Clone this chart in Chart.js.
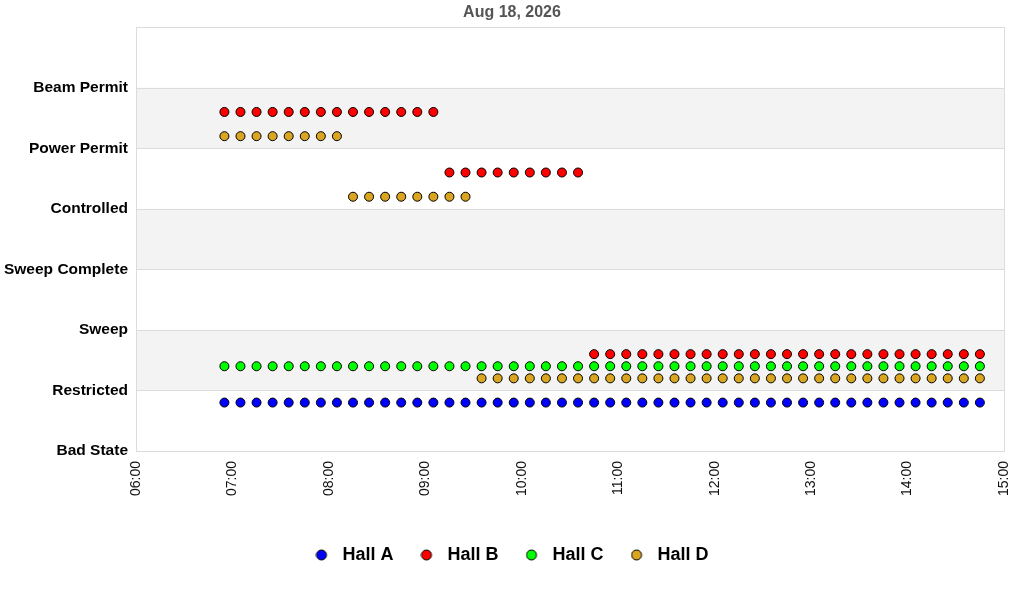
<!DOCTYPE html>
<html>
<head>
<meta charset="utf-8">
<script src="https://cdn.jsdelivr.net/npm/chart.js@4/dist/chart.umd.min.js"></script>
<style>
  body { margin: 0; background: #fff; }
</style>
</head>
<body>
<canvas id="c" width="1024" height="600"></canvas>
<script>
var STATES = ["Bad State", "Restricted", "Sweep", "Sweep Complete", "Controlled", "Power Permit", "Beam Permit"]

var TIMES = [
  "06:55", "07:05", "07:15", "07:25", "07:35", "07:45", "07:55", "08:05",
  "08:15", "08:25", "08:35", "08:45", "08:55", "09:05", "09:15", "09:25",
  "09:35", "09:45", "09:55", "10:05", "10:15", "10:25", "10:35", "10:45",
  "10:55", "11:05", "11:15", "11:25", "11:35", "11:45", "11:55", "12:05",
  "12:15", "12:25", "12:35", "12:45", "12:55", "13:05", "13:15", "13:25",
  "13:35", "13:45", "13:55", "14:05", "14:15", "14:25", "14:35", "14:45"
]

// y values: state index plus a small lane offset per hall
var HALL_A = [
  0.8, 0.8, 0.8, 0.8, 0.8, 0.8, 0.8, 0.8, 0.8, 0.8, 0.8, 0.8, 0.8, 0.8, 0.8, 0.8,
  0.8, 0.8, 0.8, 0.8, 0.8, 0.8, 0.8, 0.8, 0.8, 0.8, 0.8, 0.8, 0.8, 0.8, 0.8, 0.8,
  0.8, 0.8, 0.8, 0.8, 0.8, 0.8, 0.8, 0.8, 0.8, 0.8, 0.8, 0.8, 0.8, 0.8, 0.8, 0.8
]
var HALL_B = [
  5.6, 5.6, 5.6, 5.6, 5.6, 5.6, 5.6, 5.6, 5.6, 5.6, 5.6, 5.6, 5.6, 5.6, 4.6, 4.6,
  4.6, 4.6, 4.6, 4.6, 4.6, 4.6, 4.6, 1.6, 1.6, 1.6, 1.6, 1.6, 1.6, 1.6, 1.6, 1.6,
  1.6, 1.6, 1.6, 1.6, 1.6, 1.6, 1.6, 1.6, 1.6, 1.6, 1.6, 1.6, 1.6, 1.6, 1.6, 1.6
]
var HALL_C = [
  1.4, 1.4, 1.4, 1.4, 1.4, 1.4, 1.4, 1.4, 1.4, 1.4, 1.4, 1.4, 1.4, 1.4, 1.4, 1.4,
  1.4, 1.4, 1.4, 1.4, 1.4, 1.4, 1.4, 1.4, 1.4, 1.4, 1.4, 1.4, 1.4, 1.4, 1.4, 1.4,
  1.4, 1.4, 1.4, 1.4, 1.4, 1.4, 1.4, 1.4, 1.4, 1.4, 1.4, 1.4, 1.4, 1.4, 1.4, 1.4
]
var HALL_D = [
  5.2, 5.2, 5.2, 5.2, 5.2, 5.2, 5.2, 5.2, 4.2, 4.2, 4.2, 4.2, 4.2, 4.2, 4.2, 4.2,
  1.2, 1.2, 1.2, 1.2, 1.2, 1.2, 1.2, 1.2, 1.2, 1.2, 1.2, 1.2, 1.2, 1.2, 1.2, 1.2,
  1.2, 1.2, 1.2, 1.2, 1.2, 1.2, 1.2, 1.2, 1.2, 1.2, 1.2, 1.2, 1.2, 1.2, 1.2, 1.2
]

var BLUE = "#0000ff"
var RED = "#ff0000"
var GREEN = "#00ff00"
var GOLD = "#daa520"

function toMinutes(t) {
  var p = t.split(":")
  return parseInt(p[0], 10) * 60 + parseInt(p[1], 10)
}

function pad(n) { return (n < 10 ? "0" : "") + n }

function points(values) {
  return values.map(function (v, i) { return { x: toMinutes(TIMES[i]), y: v } })
}

function hall(label, values, color) {
  return {
    label: label,
    data: points(values),
    backgroundColor: color,
    borderColor: "#000",
    borderWidth: 1,
    pointRadius: 4.5,
    pointHoverRadius: 4.5,
    pointStyle: "circle",
    showLine: false
  }
}

// small legend marker: circle at the left of a wider box so the text sits further off
function legendDot(color) {
  var c = document.createElement("canvas")
  c.width = 18
  c.height = 12
  var g = c.getContext("2d")
  g.beginPath()
  g.arc(6, 6, 5, 0, Math.PI * 2)
  g.fillStyle = color
  g.fill()
  g.lineWidth = 1
  g.strokeStyle = "#000"
  g.stroke()
  return c
}

// alternate grey bands + light frame round the plot
var bands = {
  id: "bands",
  beforeDatasetsDraw: function (chart) {
    var ctx = chart.ctx, a = chart.chartArea, y = chart.scales.y
    ctx.save()
    ctx.fillStyle = "#f3f3f3"
    for (var i = 1; i < 7; i += 2) {
      var top = y.getPixelForValue(i + 1), bot = y.getPixelForValue(i)
      ctx.fillRect(a.left, top, a.right - a.left, bot - top)
    }
    ctx.strokeStyle = "#dcdcdc"
    ctx.lineWidth = 1
    for (var j = 0; j <= 7; j++) {
      var py = Math.round(y.getPixelForValue(j)) + 0.5
      ctx.beginPath()
      ctx.moveTo(a.left, py)
      ctx.lineTo(a.right, py)
      ctx.stroke()
    }
    ctx.strokeRect(Math.round(a.left) + 0.5, Math.round(a.top) + 0.5, Math.round(a.right - a.left), Math.round(a.bottom - a.top))
    ctx.restore()
  }
}

new Chart(document.getElementById("c"), {
  type: "scatter",
  data: {
    datasets: [
      hall("Hall A", HALL_A, BLUE),
      hall("Hall B", HALL_B, RED),
      hall("Hall C", HALL_C, GREEN),
      hall("Hall D", HALL_D, GOLD)
    ]
  },
  options: {
    responsive: false,
    devicePixelRatio: 1,
    animation: false,
    layout: { padding: { left: 0, right: 0, top: 0, bottom: 26 } },
    plugins: {
      title: {
        display: true,
        text: "Aug 18, 2026",
        color: "#555",
        font: { family: "Liberation Sans", size: 16, weight: "bold" },
        padding: { top: 3, bottom: 5 }
      },
      legend: {
        position: "bottom",
        labels: {
          usePointStyle: true,
          boxHeight: 12,
          pointStyleWidth: 18,
          padding: 27,
          color: "#000",
          font: { family: "Liberation Sans", size: 18, weight: "bold" },
          generateLabels: function (chart) {
            var items = Chart.defaults.plugins.legend.labels.generateLabels(chart)
            items.forEach(function (it, i) {
              it.pointStyle = legendDot(chart.data.datasets[i].backgroundColor)
            })
            return items
          }
        }
      },
      tooltip: { enabled: false }
    },
    scales: {
      x: {
        type: "linear",
        min: 360,
        max: 900,
        grid: { display: false, drawTicks: false },
        border: { display: false },
        ticks: {
          stepSize: 60,
          minRotation: 90,
          maxRotation: 90,
          padding: 10,
          color: "#111",
          font: { family: "Liberation Sans", size: 14 },
          callback: function (v) { return pad(Math.floor(v / 60)) + ":" + pad(v % 60) }
        },
        afterFit: function (s) {
          s.height = 68
          s.paddingLeft = 0
          s.paddingRight = 0
        }
      },
      y: {
        min: 0,
        max: 7,
        grid: { display: false, drawTicks: false },
        border: { display: false },
        ticks: {
          stepSize: 1,
          padding: 8,
          color: "#000",
          font: { family: "Liberation Sans", size: 15.5, weight: "bold" },
          callback: function (v) { return STATES[v] === undefined ? "" : STATES[v] }
        },
        afterFit: function (s) { s.width = 136 }
      },
      // empty right-hand axis, only there to keep a margin beside the plot
      yRight: {
        position: "right",
        min: 0,
        max: 7,
        grid: { display: false, drawTicks: false },
        border: { display: false },
        ticks: { display: false },
        afterFit: function (s) { s.width = 20 }
      }
    }
  },
  plugins: [bands]
})
</script>
</body>
</html>
